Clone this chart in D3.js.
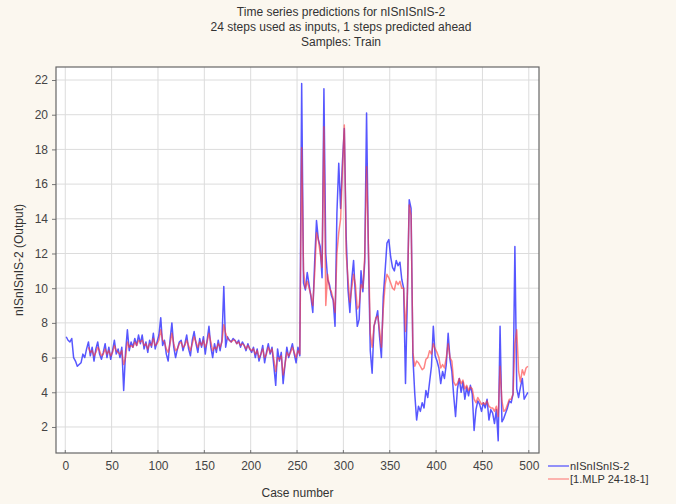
<!DOCTYPE html>
<html><head><meta charset="utf-8">
<script src="https://cdn.jsdelivr.net/npm/d3@7"></script>
<style>
html,body{margin:0;padding:0;background:#fbf7ef;}
svg{display:block;font-family:"Liberation Sans",Arial,sans-serif;}
</style></head>
<body><svg id="chart" width="676" height="504"></svg>
<script>
// case numbers sampled every 2 cases (1,3,...,499)
const caseStart = 1, caseStep = 2;
const actualValues = [
 7.2,7.0,6.9,7.1,6.0,5.8,5.5,5.6,5.7,6.2,
 6.0,6.5,6.9,6.1,6.6,5.8,6.5,6.9,6.2,5.9,
 6.3,6.8,6.0,6.6,5.9,6.4,7.0,6.2,6.5,6.0,
 6.6,4.1,6.3,7.6,6.4,6.9,6.6,7.1,6.7,7.3,
 6.8,7.3,6.5,6.9,6.3,7.0,6.6,7.4,6.5,6.9,
 7.3,8.3,6.7,7.0,6.2,5.8,7.0,8.0,6.6,6.0,
 6.5,6.9,7.0,6.4,6.8,7.3,6.5,6.1,7.0,7.5,
 6.8,6.3,7.1,6.6,7.2,6.2,7.0,7.8,6.6,6.0,
 6.8,6.3,7.0,6.4,7.0,10.1,6.6,7.2,7.0,6.9,
 7.1,7.0,6.8,7.0,6.6,6.9,6.7,6.4,6.8,6.5,
 6.3,6.6,6.0,6.5,5.8,6.2,6.7,5.7,6.3,6.8,
 6.2,6.6,5.5,4.4,6.5,5.8,6.3,4.5,5.6,6.6,
 6.0,6.4,6.8,6.2,5.7,6.6,6.1,21.8,10.3,9.9,
 10.9,10.2,9.5,8.6,11.5,13.9,12.8,12.4,10.6,21.5,
 12.0,10.5,10.2,9.6,9.3,7.8,14.3,17.2,14.6,17.3,
 19.2,13.0,9.9,8.6,10.5,11.6,9.5,7.8,8.2,11.0,
 9.8,11.5,20.1,12.0,6.4,5.1,7.8,8.2,8.7,7.2,
 6.0,9.5,11.0,12.6,12.8,11.8,11.2,11.0,11.6,11.3,
 11.5,10.5,10.0,4.5,9.5,15.1,14.6,6.0,3.9,2.4,
 3.2,2.9,3.4,3.1,4.1,3.7,4.6,5.5,7.8,6.1,
 5.8,5.4,4.5,5.2,4.8,5.6,7.4,5.9,5.2,3.8,
 2.6,4.2,4.8,4.0,4.6,3.6,4.3,3.8,4.4,3.9,
 1.8,3.0,3.5,3.3,2.9,3.4,3.1,3.6,2.4,3.0,
 2.8,2.2,3.0,1.2,7.8,2.3,2.5,2.8,3.1,3.5,
 3.4,3.9,12.4,4.2,3.7,4.3,4.8,3.6,3.8,4.0
];
const predictedValues = [
 null,null,null,null,null,null,null,null,null,null,
 null,null,6.6,6.3,6.4,6.1,6.3,6.6,6.4,6.1,
 6.2,6.5,6.2,6.4,6.1,6.3,6.7,6.4,6.3,6.2,
 6.4,5.6,6.0,6.9,6.6,6.7,6.6,6.9,6.7,7.0,
 6.9,7.0,6.7,6.8,6.5,6.8,6.7,7.1,6.7,6.8,
 7.0,7.6,7.0,6.9,6.5,6.3,6.8,7.4,6.8,6.4,
 6.5,6.8,6.9,6.6,6.7,7.0,6.7,6.4,6.8,7.2,
 6.9,6.6,6.9,6.7,7.0,6.6,6.9,7.4,6.9,6.4,
 6.6,6.5,6.8,6.6,6.9,7.9,7.4,7.1,7.0,6.9,
 7.0,7.0,6.8,6.9,6.7,6.8,6.7,6.5,6.7,6.5,
 6.4,6.5,6.2,6.4,6.0,6.2,6.5,6.0,6.2,6.6,
 6.3,6.5,5.9,5.2,6.0,5.9,6.1,5.0,5.6,6.3,
 6.1,6.3,6.6,6.3,6.0,6.4,6.2,18.1,11.0,10.0,
 10.4,10.0,9.6,9.0,10.8,13.2,12.8,12.0,11.2,19.3,
 9.0,10.8,10.0,9.8,9.4,8.6,12.0,13.2,14.0,16.8,
 19.4,12.0,10.5,9.2,10.0,10.8,10.2,8.8,9.0,10.2,
 10.0,11.8,17.0,12.5,7.4,6.6,7.8,8.3,8.4,7.6,
 6.6,8.8,10.2,10.8,10.6,10.3,10.0,9.9,10.4,10.2,
 10.4,10.0,10.0,7.5,9.7,14.8,14.2,6.3,5.5,5.8,
 5.7,5.5,5.3,5.4,5.9,6.0,6.4,6.2,6.8,6.5,
 6.3,6.0,5.4,5.6,5.4,6.0,6.8,6.0,5.8,4.6,
 4.4,4.5,4.8,4.5,4.7,4.2,4.4,4.1,4.3,4.2,
 3.6,3.4,3.7,3.5,3.3,3.4,3.3,3.5,3.2,3.1,
 3.1,2.9,3.2,2.6,5.5,3.5,2.9,3.0,3.3,3.6,
 3.6,3.9,6.8,7.6,5.2,4.6,5.3,5.0,5.4,5.5
];
const xTicks = [0,50,100,150,200,250,300,350,400,450,500];
const yTicks = [2,4,6,8,10,12,14,16,18,20,22];
const titleLines = ["Time series predictions for nISnISnIS-2","24 steps used as inputs, 1 steps predicted ahead","Samples: Train"];
const seriesNames = ["nISnISnIS-2","[1.MLP 24-18-1]"];
const seriesColors = ["#3a3aff","#ff3a3a"];

const svg = d3.select("#chart");
const m = {left:56, top:67, right:539, bottom:453};
const x = d3.scaleLinear().domain([-10,511]).range([m.left,m.right]);
const y = d3.scaleLinear().domain([0.5,22.75]).range([m.bottom,m.top]);

svg.append("rect").attr("x",m.left).attr("y",m.top).attr("width",m.right-m.left).attr("height",m.bottom-m.top).attr("fill","#ffffff");

// grid
svg.append("g").selectAll("line").data(xTicks).join("line")
  .attr("x1",d=>x(d)).attr("x2",d=>x(d)).attr("y1",m.top).attr("y2",m.bottom)
  .attr("stroke","#dcdcdc").attr("stroke-width",1);
svg.append("g").selectAll("line").data(yTicks).join("line")
  .attr("y1",d=>y(d)).attr("y2",d=>y(d)).attr("x1",m.left).attr("x2",m.right)
  .attr("stroke","#dcdcdc").attr("stroke-width",1);

const caseOf = i => caseStart + i*caseStep;
const line = d3.line().defined(d=>d[1]!=null).x(d=>x(d[0])).y(d=>y(d[1]));
svg.append("clipPath").attr("id","pc").append("rect")
  .attr("x",m.left).attr("y",m.top).attr("width",m.right-m.left).attr("height",m.bottom-m.top);
const g = svg.append("g").attr("clip-path","url(#pc)");
g.append("path").datum(actualValues.map((v,i)=>[caseOf(i),v]))
  .attr("d",line).attr("fill","none").attr("stroke",seriesColors[0]).attr("stroke-width",1.5).attr("stroke-opacity",0.85).attr("stroke-linejoin","round");
g.append("path").datum(predictedValues.map((v,i)=>[caseOf(i),v]))
  .attr("d",line).attr("fill","none").attr("stroke",seriesColors[1]).attr("stroke-width",1.5).attr("stroke-opacity",0.62).attr("stroke-linejoin","round");

// axes
const xAxis = d3.axisBottom(x).tickValues(xTicks).tickSize(0).tickPadding(8);
const yAxis = d3.axisLeft(y).tickValues(yTicks).tickSize(4).tickPadding(4);
const gx = svg.append("g").attr("transform",`translate(0,${m.bottom})`).call(xAxis);
const gy = svg.append("g").attr("transform",`translate(${m.left},0)`).call(yAxis);
[gx,gy].forEach(a=>{a.select(".domain").remove(); a.selectAll("text").attr("fill","#444").style("font-size","12px").style("font-family","'Liberation Sans',Arial,sans-serif"); a.selectAll("line").attr("stroke","#777");});
svg.append("g").selectAll("line").data(xTicks).join("line")
  .attr("x1",d=>x(d)).attr("x2",d=>x(d)).attr("y1",m.bottom).attr("y2",m.bottom-3).attr("stroke","#777");

svg.append("rect").attr("x",m.left).attr("y",m.top).attr("width",m.right-m.left).attr("height",m.bottom-m.top)
  .attr("fill","none").attr("stroke","#666").attr("stroke-width",1.2);

// titles
svg.append("g").selectAll("text").data(titleLines).join("text")
  .attr("x",341).attr("y",(d,i)=>16+i*15).attr("text-anchor","middle")
  .attr("fill","#333").style("font-size","12px").text(d=>d);
svg.append("text").attr("x",(m.left+m.right)/2).attr("y",497).attr("text-anchor","middle")
  .attr("fill","#333").style("font-size","12px").text("Case number");
svg.append("text").attr("transform",`translate(23,${(m.top+m.bottom)/2}) rotate(-90)`).attr("text-anchor","middle")
  .attr("fill","#333").style("font-size","12px").text("nISnISnIS-2 (Output)");

// legend
const lg = svg.append("g");
seriesNames.forEach((n,i)=>{
  const yy = 466 + i*13;
  lg.append("line").attr("x1",548).attr("x2",569).attr("y1",yy).attr("y2",yy)
    .attr("stroke",seriesColors[i]).attr("stroke-width",1.2).attr("stroke-opacity",i?0.6:0.9);
  lg.append("text").attr("x",570).attr("y",yy+4).attr("fill","#333").style("font-size","11px").text(n);
});
</script></body></html>
